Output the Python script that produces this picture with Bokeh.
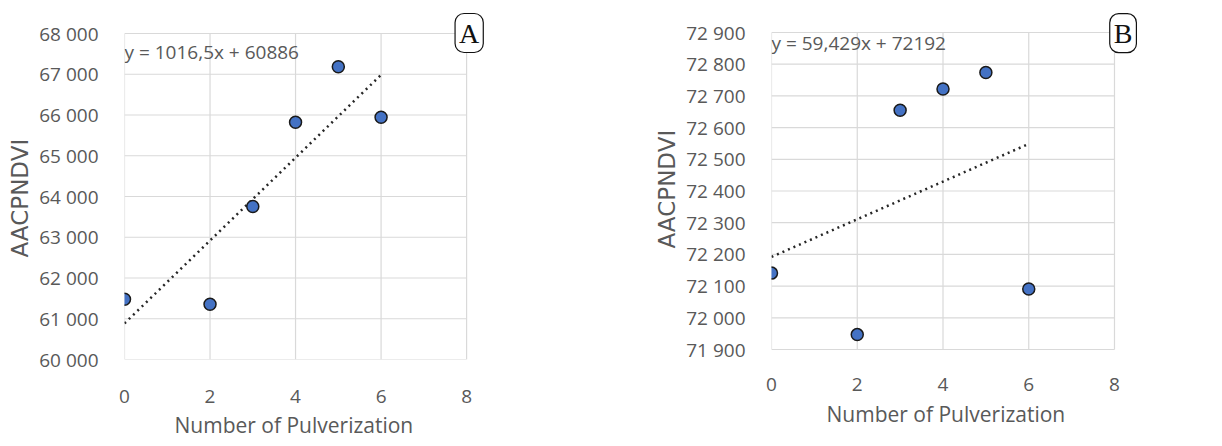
from bokeh.plotting import figure
from bokeh.layouts import row
from bokeh.models import Range1d, FixedTicker, CustomJSTickFormatter, Label, Title
from bokeh.embed import file_html
from bokeh.resources import INLINE
import numpy as np

# ---- data ----
x_pulv = [0, 2, 3, 4, 5, 6]
a_vals = [61480, 61355, 63755, 65820, 67185, 65945]
b_vals = [72141, 71947, 72655, 72722, 72774, 72091]
a_slope, a_inter = 1016.5, 60886
b_slope, b_inter = 59.429, 72192
a_eq = "y = 1016,5x + 60886"
b_eq = "y = 59,429x + 72192"
x_ticks = [0, 2, 4, 6, 8]
a_yticks = list(range(60000, 68001, 1000))
b_yticks = list(range(71900, 72901, 100))
trend_x = [0, 6]
x_title = "Number of Pulverization"
y_title = "AACPNDVI"

FONT = "Open Sans"
GREY = "#595959"
GRID = "#D9D9D9"
H = 446
FTOP = 4      # frame top (canvas px), shared by both panels
FBOT = 359    # frame bottom (canvas px), shared by both panels

fmt = CustomJSTickFormatter(code=r"""
return tick.toFixed(0).replace(/\B(?=(\d{3})+(?!\d))/g, ' ');
""")


def make(vals, slope, inter, eq, yticks, letter, width, frame, eq_pos, letter_pos,
         xstand, tstand, xoff, yoff):
    # frame: (frame left, frame right, px of top tick, px of bottom tick)
    fl, fr, py1, py0 = frame
    y0, y1 = yticks[0], yticks[-1]
    upp = (y1 - y0) / (py0 - py1)
    y_end = y1 + (py1 - FTOP) * upp
    y_start = y0 - (FBOT - py0) * upp
    xpp = 8 / 343.0
    x_end = (fr - fl) * xpp
    p = figure(width=width, height=H, output_backend="svg", toolbar_location=None,
               x_range=Range1d(0, x_end), y_range=Range1d(y_start, y_end),
               min_border_left=fl, min_border_right=width - fr,
               min_border_top=FTOP, min_border_bottom=H - FBOT)
    p.outline_line_color = None
    p.background_fill_color = "white"
    p.border_fill_color = "white"
    for ax in (p.xaxis, p.yaxis):
        ax.axis_line_color = None
        ax.major_tick_line_color = None
        ax.minor_tick_line_color = None
        ax.major_label_text_font = FONT
        ax.major_label_text_font_size = "19px"
        ax.major_label_text_color = GREY
    p.xaxis.ticker = FixedTicker(ticks=x_ticks)
    p.yaxis.ticker = FixedTicker(ticks=yticks)
    p.yaxis.formatter = fmt
    p.yaxis.major_label_standoff = 20
    p.xaxis.major_label_standoff = xstand
    p.xgrid.grid_line_color = None
    p.ygrid.grid_line_color = None

    p.segment(x0=x_ticks, y0=[y0] * len(x_ticks), x1=x_ticks, y1=[y1] * len(x_ticks),
              line_color=GRID, line_width=1.2)
    p.segment(x0=[x_ticks[0]] * len(yticks), y0=yticks, x1=[x_ticks[-1]] * len(yticks), y1=yticks,
              line_color=GRID, line_width=1.2)

    tx = np.array(trend_x, dtype=float)
    p.line(tx, inter + slope * tx, line_color="#262626", line_width=2.5, line_dash="2 4")
    p.scatter(x_pulv, vals, size=12, fill_color="#4472C4", line_color="#1a1a1a", line_width=1.5)

    p.add_layout(Label(x=eq_pos[0], y=eq_pos[1], text=eq, text_font=FONT,
                       text_font_size="19px", text_color=GREY, text_baseline="alphabetic"))
    p.add_layout(Label(x=letter_pos[0], y=letter_pos[1], text=letter,
                       text_font="Liberation Serif", text_font_size="28px", text_color="#111111",
                       text_align="center", text_baseline="middle",
                       border_line_color="#111111", border_line_width=1.2,
                       background_fill_color="white", padding=4, border_radius=9))

    p.add_layout(Title(text=x_title, align="left", offset=xoff, text_font=FONT,
                       text_font_size="21px", text_font_style="normal", text_color=GREY,
                       standoff=tstand, vertical_align="top"), "below")
    p.add_layout(Title(text=y_title, align="left", offset=yoff, text_font="DejaVu Sans",
                       text_font_size="23px", text_font_style="normal", text_color=GREY,
                       standoff=8), "left")
    return p


pa = make(a_vals, a_slope, a_inter, a_eq, a_yticks, "A", 600, (123, 505, 33, 359),
          (0.0, 67558), (8.06, 68012), 24, 10, 50, 102)
pb = make(b_vals, b_slope, b_inter, b_eq, b_yticks, "B", 606, (171, 550, 32, 349),
          (0.0, 72868), (8.2, 72898), 12, 13, 55, 111)

layout = row(pa, pb)
open("out.html", "w").write(file_html(layout, INLINE))
